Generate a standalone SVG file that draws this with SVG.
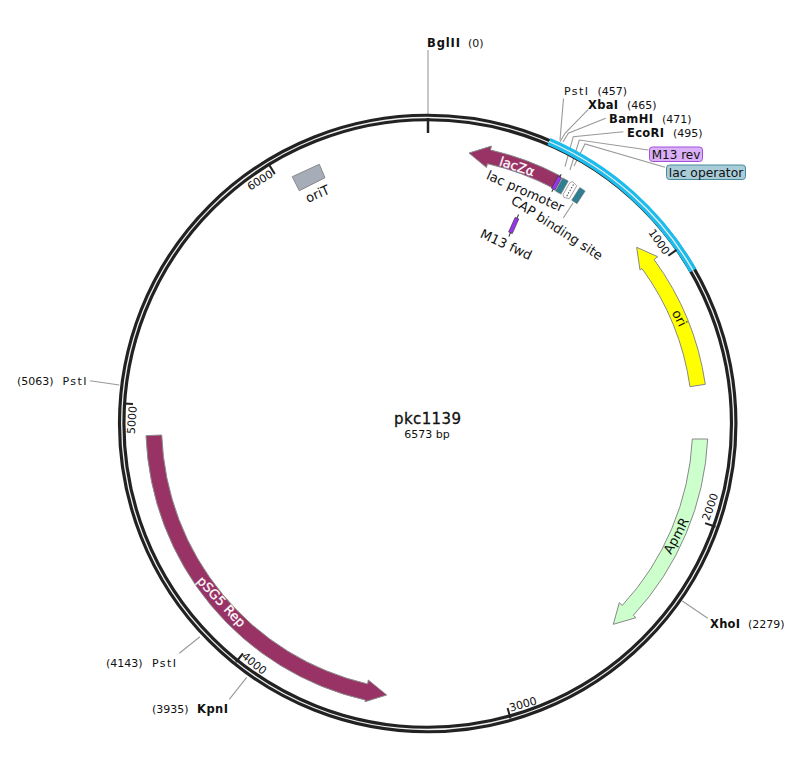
<svg xmlns="http://www.w3.org/2000/svg" width="801" height="760" viewBox="0 0 801 760">
<style>
text{font-family:"DejaVu Sans","Liberation Sans",sans-serif;font-size:11px;fill:#111}
.b{font-weight:bold;font-size:11.5px}
.c{text-anchor:middle}
.l{font-size:13px}
.w{fill:#fff;font-size:13px;stroke:#fff;stroke-width:.25}
.lead{fill:none;stroke:#999;stroke-width:1.1}
.ring{fill:none;stroke:#222;stroke-width:7.6}
.ringw{fill:none;stroke:#eee;stroke-width:1.3}
.tick{stroke:#222;stroke-width:2;fill:none}
.f{stroke:#888;stroke-width:1}
.mag{fill:#993366}
.teal{fill:#2f7f92;stroke:#777;stroke-width:.6}
.pur{fill:#9933ee;stroke:#333;stroke-width:.6}
.blk{stroke:#333;stroke-width:1;fill:none}
</style>
<rect width="801" height="760" fill="#fff"/>
<g id="connectors">
<path class="lead" d="M428 50V117"/>
<path class="lead" d="M563.5 98.5L560 140"/>
<path class="lead" d="M588.3 109.3L565 133.3L560 141.7"/>
<path class="lead" d="M605.7 118.3L568.3 133.3L563 142"/>
<path class="lead" d="M623.3 131.7L573.3 136.7L565 166.7"/>
<path class="lead" d="M648.3 150L579.3 140L570 170"/>
<path class="lead" d="M665 167.3L585 144L574 166"/>
<path class="lead" d="M563.3 218L573 203"/>
<path class="lead" d="M90 380.7L119.3 385"/>
<path class="lead" d="M179.3 653.3L200 636.7"/>
<path class="lead" d="M229.3 699.3L246.7 677.3"/>
<path class="lead" d="M682.3 601L707.7 618.3"/>
</g>
<g id="backbone">
<circle class="ring" cx="427.7" cy="423.5" r="306"/>
<circle class="ringw" cx="427.7" cy="423.5" r="306"/>
<path d="M549 141.5A306 306 0 0 1 693 270.5" fill="none" stroke="#1cbcec" stroke-width="7.6"/>
<path d="M549 141.5A306 306 0 0 1 693 270.5" class="ringw"/>
<path class="tick" style="stroke-width:2.5" d="M428 118V133"/>
<path class="tick" d="M668.3 255.7L676.5 249.9"/>
<path class="tick" d="M705.1 523.1L715.5 526.8"/>
<path class="tick" d="M507.6 708L510.5 718.6"/>
<path class="tick" d="M243 653.5L236 662"/>
<path class="tick" d="M133 404L123.7 403.4"/>
<path class="tick" d="M274.8 174L269 164.6"/>
<text class="c" transform="translate(659.3,241.7) rotate(54.8)" y="4">1000</text>
<text class="c" transform="translate(710,506.7) rotate(-70.5)" y="4">2000</text>
<text class="c" transform="translate(523,704) rotate(-15.7)" y="4">3000</text>
<text class="c" transform="translate(254.3,663.3) rotate(39)" y="4">4000</text>
<text class="c" transform="translate(131.7,420) rotate(-86)" y="4">5000</text>
<text class="c" transform="translate(260,180) rotate(-31.4)" y="4">6000</text>
</g>
<g id="title">
<text class="c" x="427.5" y="424" textLength="67" style="font-size:15px;stroke:#111;stroke-width:.3">pkc1139</text>
<text class="c" x="427" y="438">6573 bp</text>
</g>
<g id="ori">
<path class="f" fill="#ffff00" d="M705.3 384.3A280 280 0 0 0 654 259.5L657.7 256.7L636.7 247.3L640 270L642 268.5A265 265 0 0 1 690 386.7Z"/>
<text class="c l" transform="translate(679,318.3) rotate(62)" y="4">ori</text>
</g>
<g id="ApmR">
<path class="f" fill="#ccffcc" d="M692.3 439A265 265 0 0 1 622.3 605.4L619.3 602.7L613.3 624.3L636 617.7L633.3 615.3A280 280 0 0 0 707.7 439Z"/>
<text class="c l" transform="translate(676.7,536) rotate(-62)" y="4">ApmR</text>
</g>
<g id="pSG5Rep">
<path class="f mag" d="M146 435.7A282 282 0 0 0 365.3 700L365 701.7L386.7 695L368.3 680L367.7 684A266 266 0 0 1 161.7 435Z"/>
<text class="c w" transform="translate(221,602) rotate(47)" y="4">pSG5 Rep</text>
</g>
<g id="lacZa">
<path class="f mag" d="M560.4 176A282 282 0 0 0 490.5 150L491.4 146.1L469 153L486.5 167.6L487.4 163.7A268 268 0 0 1 553.8 188.4Z"/>
<text class="c w" transform="translate(517,167) rotate(18)" y="4">lacZα</text>
</g>
<g id="M13rev">
<g transform="translate(556.5,183) rotate(28)"><path class="blk" d="M0-10V10"/><rect class="pur" x="-2" y="-7" width="4" height="14"/></g>
</g>
<g id="lacOperator"><rect class="teal" transform="translate(561.8,186) rotate(29)" x="-3.2" y="-7.5" width="6.4" height="15"/></g>
<g id="lacPromoter">
<g transform="translate(570,190.5) rotate(30)"><path d="M3.5-7.5L-2-9L-4-7V7L-2 9L3.5 7.5Z" fill="#fff" stroke="#999" stroke-width=".8"/><path d="M0-7V7" stroke="#444" stroke-width="1" stroke-dasharray="1.5 1.5"/></g>
<text class="c l" transform="translate(525,191.7) rotate(24)" y="4">lac promoter</text>
</g>
<g id="CAP"><rect class="teal" transform="translate(578.4,195.6) rotate(33)" x="-3.2" y="-7.5" width="6.4" height="15"/>
<text class="c l" transform="translate(556.7,228.3) rotate(33)" y="4">CAP binding site</text>
</g>
<g id="M13fwd">
<g transform="translate(513.7,225.5) rotate(24)"><path class="blk" d="M0-12V12"/><rect class="pur" x="-2" y="-8" width="4" height="16"/></g>
<text class="c l" transform="translate(506,245) rotate(25)" y="4">M13 fwd</text>
</g>
<g id="oriT">
<path class="f" fill="#a6adb8" d="M292.3 176.7L319.3 164.3L325 177.7L299.3 190.7Z"/>
<text class="c l" transform="translate(317.7,194.3) rotate(-24)" y="4">oriT</text>
</g>
<g id="M13revLabel"><rect x="649.5" y="147" width="53" height="14.5" rx="3" fill="#dcb0f8" stroke="#a050d8"/><text class="c" x="676" y="158.5" style="font-size:12px">M13 rev</text></g>
<g id="lacOperatorLabel"><rect x="666.5" y="165" width="79" height="14.5" rx="3" fill="#a8cdd8" stroke="#4a8a9c"/><text class="c" x="706" y="176.5" style="font-size:12.3px">lac operator</text></g>
<g id="BglII"><text x="427" y="47" class="b" textLength="33">BglII</text><text x="468" y="47">(0)</text></g>
<g id="PstI457"><text x="564" y="95" textLength="24">PstI</text><text x="597.5" y="95">(457)</text></g>
<g id="XbaI"><text x="588" y="109" class="b" textLength="30">XbaI</text><text x="627" y="109">(465)</text></g>
<g id="BamHI"><text x="609" y="123" class="b" textLength="44">BamHI</text><text x="662" y="123">(471)</text></g>
<g id="EcoRI"><text x="627" y="137" class="b" textLength="37">EcoRI</text><text x="673" y="137">(495)</text></g>
<g id="PstI5063"><text x="17" y="385">(5063)</text><text x="62.5" y="385" textLength="24">PstI</text></g>
<g id="PstI4143"><text x="106" y="667">(4143)</text><text x="152" y="667" textLength="24">PstI</text></g>
<g id="KpnI"><text x="152" y="713">(3935)</text><text x="197" y="713" class="b" textLength="31">KpnI</text></g>
<g id="XhoI"><text x="710" y="628" class="b" textLength="30">XhoI</text><text x="748" y="628">(2279)</text></g>
</svg>
